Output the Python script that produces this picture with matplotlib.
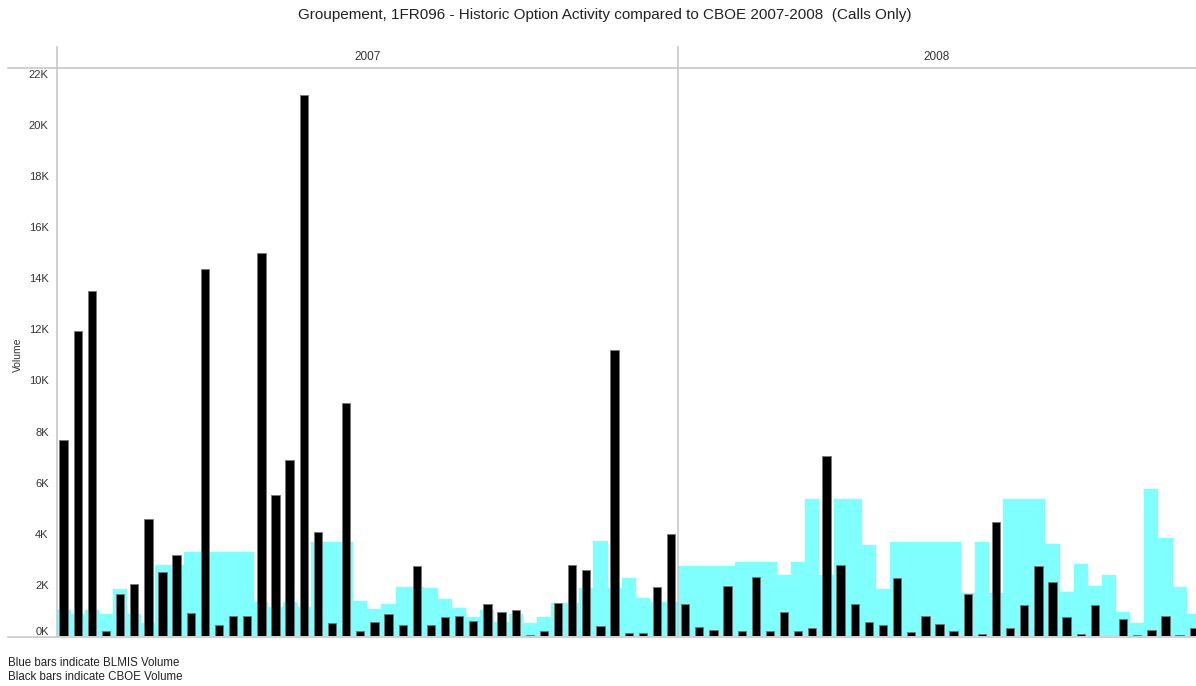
import matplotlib
matplotlib.use('Agg')
import matplotlib.pyplot as plt
import matplotlib.transforms as mtransforms
from matplotlib.lines import Line2D

# BLMIS volume per period (thousands of contracts)
blmis = [
    1.0, 0.88, 1.0, 0.88, 1.83, 0.88, 0.5, 2.76, 2.76, 3.27,
    3.27, 3.27, 3.27, 3.27, 1.35, 1.15, 1.35, 1.15, 3.68, 3.68,
    3.68, 1.37, 1.07, 1.24, 1.92, 1.92, 1.87, 1.46, 1.11, 0.76,
    1.02, 0.56, 0.85, 0.52, 0.76, 1.28, 1.28, 1.87, 3.72, 1.87,
    2.28, 1.47, 1.35, 1.35, 2.75, 2.75, 2.75, 2.75, 2.9, 2.9,
    2.9, 2.4, 2.9, 5.35, 2.4, 5.35, 5.35, 3.55, 1.83, 3.67,
    3.67, 3.67, 3.67, 3.67, 1.67, 3.67, 1.68, 5.35, 5.35, 5.35,
    3.6, 1.74, 2.8, 1.95, 2.4, 0.92, 0.49, 5.75, 3.85, 1.93,
    0.85,
]
# CBOE volume per period (thousands of contracts)
cboe = [
    7.69, 11.92, 13.5, 0.21, 1.66, 2.05, 4.58, 2.52, 3.18, 0.89,
    14.35, 0.43, 0.78, 0.78, 14.98, 5.5, 6.89, 21.17, 4.07, 0.5,
    9.13, 0.2, 0.55, 0.85, 0.45, 2.75, 0.45, 0.74, 0.79, 0.58,
    1.25, 0.94, 1.01, 0.05, 0.2, 1.29, 2.77, 2.6, 0.4, 11.2,
    0.1, 0.1, 1.9, 4.0, 1.25, 0.35, 0.25, 1.95, 0.2, 2.3,
    0.18, 0.95, 0.2, 0.3, 7.03, 2.77, 1.25, 0.56, 0.42, 2.28,
    0.15, 0.8, 0.48, 0.2, 1.66, 0.07, 4.45, 0.3, 1.2, 2.75,
    2.1, 0.75, 0.06, 1.2, 0.0, 0.65, 0.05, 0.25, 0.8, 0.03,
    0.3,
]
years = ['2007', '2008']
periods_2007 = 44
yticks = list(range(0, 23, 2))

W, H = 1196, 686
fig = plt.figure(figsize=(W / 100, H / 100), dpi=100)
plt.rcParams['font.family'] = ['Liberation Sans', 'DejaVu Sans']

def fx(px):
    return px / W

def fy(py):
    return 1 - py / H

ax_l, ax_r, ax_t, ax_b = 57, 1196, 68, 636
ax = fig.add_axes([fx(ax_l), fy(ax_b), fx(ax_r - ax_l), (ax_b - ax_t) / H])

x = list(range(len(blmis)))
ax.bar(x, blmis, width=1.0, color='#80ffff', edgecolor='#80ffff', linewidth=0.3, zorder=1)
ax.bar(x, cboe, width=0.59, color='black', edgecolor='#777777', linewidth=0.6, zorder=2)

ax.set_xlim(-0.47, 80.16)
ax.set_ylim(0, 22.23)
ax.set_xticks([])
ax.set_yticks(yticks)
ax.set_yticklabels([f'{t}K' for t in yticks], fontsize=8, color='#333333')
ax.tick_params(axis='y', length=0, pad=6)
# nudge the 0K label up off the baseline, as in the source
zero_lbl = ax.get_yticklabels()[0]
zero_lbl.set_transform(zero_lbl.get_transform() +
                       mtransforms.ScaledTranslation(0, 5 / 100, fig.dpi_scale_trans))
for s in ax.spines.values():
    s.set_visible(False)

grey = '#c8c8c8'
# header band and axis lines
fig.add_artist(Line2D([fx(8), fx(W)], [fy(68), fy(68)], color=grey, lw=1.2))
fig.add_artist(Line2D([fx(8), fx(W)], [fy(636.5), fy(636.5)], color=grey, lw=1.2))
fig.add_artist(Line2D([fx(57), fx(57)], [fy(47), fy(636)], color=grey, lw=1.2))
fig.add_artist(Line2D([fx(678), fx(678)], [fy(47), fy(636)], color=grey, lw=1.2))

fig.text(fx((57 + 678) / 2), fy(57), years[0], ha='center', va='center', fontsize=8.5, color='#333333')
fig.text(fx((678 + 1196) / 2), fy(57), years[1], ha='center', va='center', fontsize=8.5, color='#333333')

fig.text(fx(605), fy(15),
         'Groupement, 1FR096 - Historic Option Activity compared to CBOE 2007-2008  (Calls Only)',
         ha='center', va='center', fontsize=11, color='#222222')
fig.text(fx(18), fy(355), 'Volume', rotation=90, ha='center', va='center', fontsize=7.5, color='#333333')

fig.text(fx(8), fy(663), 'Blue bars indicate BLMIS Volume', ha='left', va='center', fontsize=8.3, color='#222222')
fig.text(fx(8), fy(677), 'Black bars indicate CBOE Volume', ha='left', va='center', fontsize=8.3, color='#222222')

fig.savefig('out.png', dpi=100)
